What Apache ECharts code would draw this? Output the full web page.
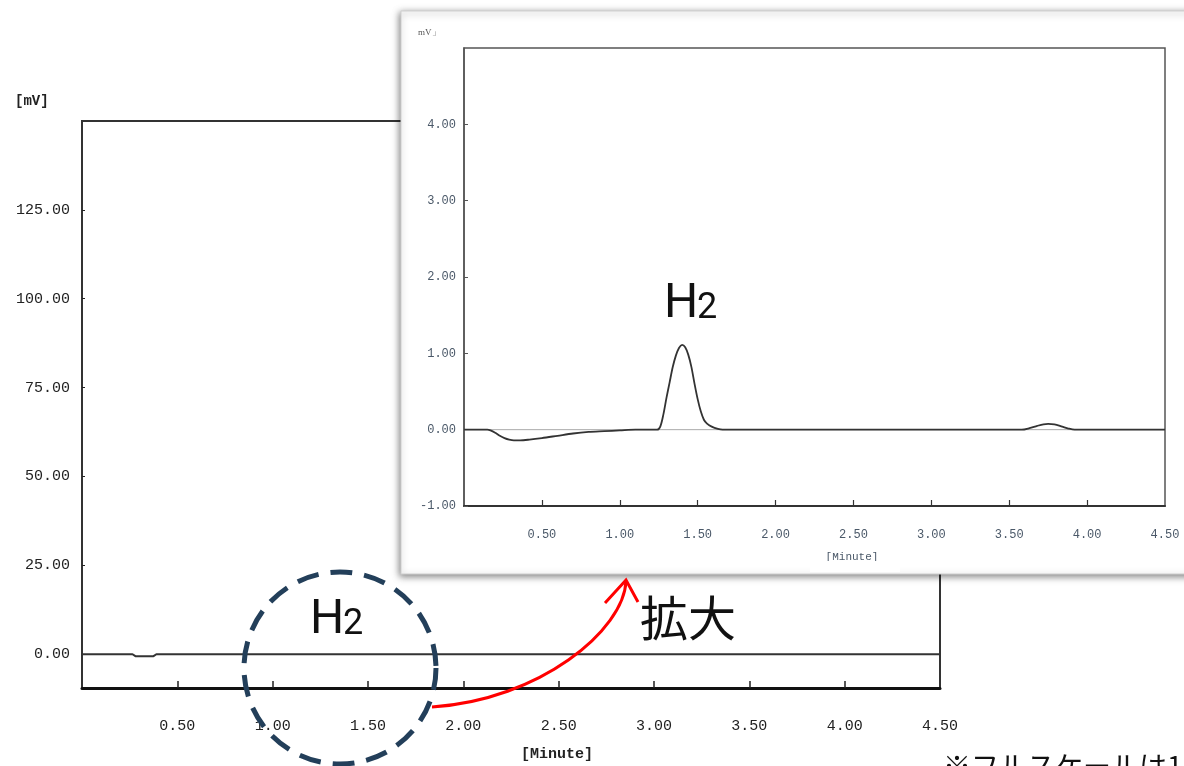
<!DOCTYPE html>
<html>
<head>
<meta charset="utf-8">
<script src="https://cdn.jsdelivr.net/npm/echarts@6/dist/echarts.min.js"></script>
<style>html,body{margin:0;padding:0;background:#fff;}#c{width:1184px;height:766px;}</style>
</head>
<body>
<div id="c"></div>
<script>
// ---- Data ----
// Main chromatogram (full scale, mV vs minutes)
const mainTime = [0, 0.10, 0.20, 0.265, 0.28, 0.375, 0.39, 0.45, 0.55, 0.65, 0.75, 0.85, 0.95, 1.05, 1.5, 2.0, 2.5, 3.0, 3.5, 4.0, 4.5];
const mainSignal = [0, 0, 0, 0, -0.55, -0.55, 0, 0, 0, 0, 0, 0, 0, 0, 0, 0, 0, 0, 0, 0, 0];
const mainXTicks = [0.5, 1.0, 1.5, 2.0, 2.5, 3.0, 3.5, 4.0, 4.5];
const mainYTicks = [0, 25, 50, 75, 100, 125];

// Enlarged chromatogram (inset)
const insetTime = [0, 0.15, 0.17, 0.20, 0.23, 0.26, 0.29, 0.32, 0.36, 0.42, 0.50, 0.60, 0.70, 0.80, 0.90, 1.00, 1.10, 1.20, 1.24,
  1.26, 1.28, 1.30, 1.32, 1.34, 1.36, 1.38, 1.40, 1.42, 1.44, 1.46, 1.48, 1.50, 1.52, 1.54, 1.56, 1.59, 1.63, 1.66,
  1.80, 2.00, 2.50, 3.00, 3.50, 3.58, 3.63, 3.68, 3.72, 3.75, 3.79, 3.84, 3.88, 3.92, 4.10, 4.50];
const insetSignal = [0, 0, -0.01, -0.04, -0.08, -0.11, -0.13, -0.14, -0.14, -0.13, -0.11, -0.08, -0.05, -0.03, -0.02, -0.01, 0, 0, 0,
  0.04, 0.20, 0.42, 0.62, 0.82, 0.97, 1.07, 1.11, 1.08, 0.98, 0.82, 0.60, 0.40, 0.24, 0.13, 0.08, 0.04, 0.01, 0,
  0, 0, 0, 0, 0, 0, 0.02, 0.05, 0.07, 0.075, 0.07, 0.04, 0.015, 0, 0, 0];
const baselineTime = [0, 4.5];
const baselineSignal = [0, 0];
const insetXTicks = [0.5, 1.0, 1.5, 2.0, 2.5, 3.0, 3.5, 4.0, 4.5];
const insetYTicks = [-1, 0, 1, 2, 3, 4];
const peak2 = [3.75, 0.075];

const pair = (xs, ys) => xs.map((x, i) => [x, ys[i]]);
const fmt = v => v.toFixed(2);

const chart = echarts.init(document.getElementById('c'), null, {renderer: 'canvas'});
const mono = '"Liberation Mono", monospace';

chart.setOption({
  animation: false,
  backgroundColor: '#fff',
  grid: [
    {left: 82, top: 121, width: 858, height: 567, show: true, borderColor: '#333', borderWidth: 2, z: 0, outerBoundsMode: 'none'},
    {left: 464, top: 48, width: 701, height: 458, show: true, borderColor: '#555', borderWidth: 1.5, backgroundColor: '#fff', z: 6, outerBoundsMode: 'none'}
  ],
  xAxis: [
    {type: 'value', gridIndex: 0, min: 0, max: 4.5, interval: 0.5, z: 1,
      splitLine: {show: false},
      axisLine: {show: true, onZero: false, lineStyle: {color: '#111', width: 3}},
      axisTick: {show: true, inside: true, length: 7, lineStyle: {color: '#222', width: 1.5}, customValues: mainXTicks.slice(0, -1)},
      axisLabel: {margin: 31, fontFamily: mono, fontSize: 15, color: '#222', formatter: fmt, customValues: mainXTicks}
    },
    {type: 'value', gridIndex: 1, min: 0, max: 4.5, interval: 0.5, z: 7,
      splitLine: {show: false},
      axisLine: {show: true, onZero: false, lineStyle: {color: '#333', width: 2}},
      axisTick: {show: true, inside: true, length: 6, lineStyle: {color: '#333', width: 1.2}, customValues: insetXTicks.slice(0, -1)},
      axisLabel: {margin: 23, fontFamily: mono, fontSize: 12, color: '#4a5868', formatter: fmt, customValues: insetXTicks}
    }
  ],
  yAxis: [
    {type: 'value', gridIndex: 0, min: -9.5, max: 150, z: 1,
      splitLine: {show: false},
      axisLine: {show: true, onZero: false, lineStyle: {color: '#333', width: 2}},
      axisTick: {show: true, inside: true, length: 3, lineStyle: {color: '#222'}, customValues: mainYTicks},
      axisLabel: {margin: 12, fontFamily: mono, fontSize: 15, color: '#222', formatter: fmt, customValues: mainYTicks}
    },
    {type: 'value', gridIndex: 1, min: -1, max: 5, interval: 1, z: 7,
      splitLine: {show: false},
      axisLine: {show: true, onZero: false, lineStyle: {color: '#555', width: 1.5}},
      axisTick: {show: true, inside: true, length: 4, lineStyle: {color: '#555'}, customValues: insetYTicks},
      axisLabel: {margin: 8, fontFamily: mono, fontSize: 12, color: '#4a5868', formatter: fmt, customValues: insetYTicks}
    }
  ],
  series: [
    {type: 'line', xAxisIndex: 0, yAxisIndex: 0, data: pair(mainTime, mainSignal), showSymbol: false, smooth: false, z: 2,
      lineStyle: {color: '#333', width: 2}},
    {type: 'line', xAxisIndex: 1, yAxisIndex: 1, data: pair(baselineTime, baselineSignal), showSymbol: false, z: 8,
      lineStyle: {color: '#aaa', width: 1}},
    {type: 'line', xAxisIndex: 1, yAxisIndex: 1, data: pair(insetTime, insetSignal), showSymbol: false, smooth: 0.3, z: 9,
      lineStyle: {color: '#333', width: 1.8},
      markPoint: {symbol: 'circle', symbolSize: 0, silent: true,
        data: [{coord: peak2, label: {show: true, formatter: '2', position: 'top', distance: 8, fontSize: 7, color: '#8899aa'}}]}
    }
  ],
  graphic: [
    // main axis names
    {type: 'text', left: 15, top: 94, z: 1, style: {text: '[mV]', font: 'bold 14px "Liberation Mono"', fill: '#222'}},
    {type: 'text', x: 557, y: 754, z: 1, style: {text: '[Minute]', font: 'bold 15px "Liberation Mono"', fill: '#222', align: 'center', verticalAlign: 'middle'}},
    // inset panel
    {type: 'rect', z: 5, shape: {x: 401, y: 11, width: 820, height: 563},
      style: {fill: '#fff', stroke: '#cfcfcf', lineWidth: 1, shadowBlur: 7, shadowColor: 'rgba(0,0,0,0.5)', shadowOffsetX: -1, shadowOffsetY: 2}},
    {type: 'text', x: 418, y: 33, z: 7, style: {text: 'mV」', font: '9px "Liberation Serif"', fill: '#555', verticalAlign: 'middle'}},
    {type: 'text', x: 852, y: 557, z: 7, style: {text: '[Minute]', font: '11px "Liberation Mono"', fill: '#4a5868', align: 'center', verticalAlign: 'middle'}},
    {type: 'rect', z: 7.5, shape: {x: 810, y: 561, width: 90, height: 11}, style: {fill: '#fff'}},
    // inset H2 label
    {type: 'text', x: 664, y: 305, z: 20, style: {text: 'H', font: '48px Roboto', fill: '#111', verticalAlign: 'middle'}},
    {type: 'text', x: 697, y: 308.5, z: 20, style: {text: '2', font: '36px Roboto', fill: '#111', verticalAlign: 'middle'}},
    // circle annotation
    {type: 'circle', z: 20, shape: {cx: 340, cy: 668, r: 96},
      style: {fill: 'none', stroke: '#233f5a', lineWidth: 5, lineDash: [22, 12]}},
    {type: 'text', x: 310, y: 621, z: 20, style: {text: 'H', font: '48px Roboto', fill: '#111', verticalAlign: 'middle'}},
    {type: 'text', x: 343, y: 624.5, z: 20, style: {text: '2', font: '36px Roboto', fill: '#111', verticalAlign: 'middle'}},
    // red arrow
    {type: 'bezierCurve', z: 20, shape: {x1: 432, y1: 707, cpx1: 540, cpy1: 700, cpx2: 624, cpy2: 630, x2: 626, y2: 581},
      style: {fill: 'none', stroke: '#ff0000', lineWidth: 3}},
    {type: 'polyline', z: 20, shape: {points: [[605, 603], [626, 580], [638, 602]]},
      style: {fill: 'none', stroke: '#ff0000', lineWidth: 3}},
    {type: 'text', x: 640, y: 618, z: 20, style: {text: '拡大', font: '48px "Noto Sans CJK JP"', fill: '#111', verticalAlign: 'middle'}},
    // footnote (cut off at the edge)
    {type: 'text', x: 943, y: 752, z: 20, style: {text: '※フルスケールは150mV', font: '28px "Noto Sans CJK JP"', fill: '#111', verticalAlign: 'top'}}
  ]
});
</script>
</body>
</html>
